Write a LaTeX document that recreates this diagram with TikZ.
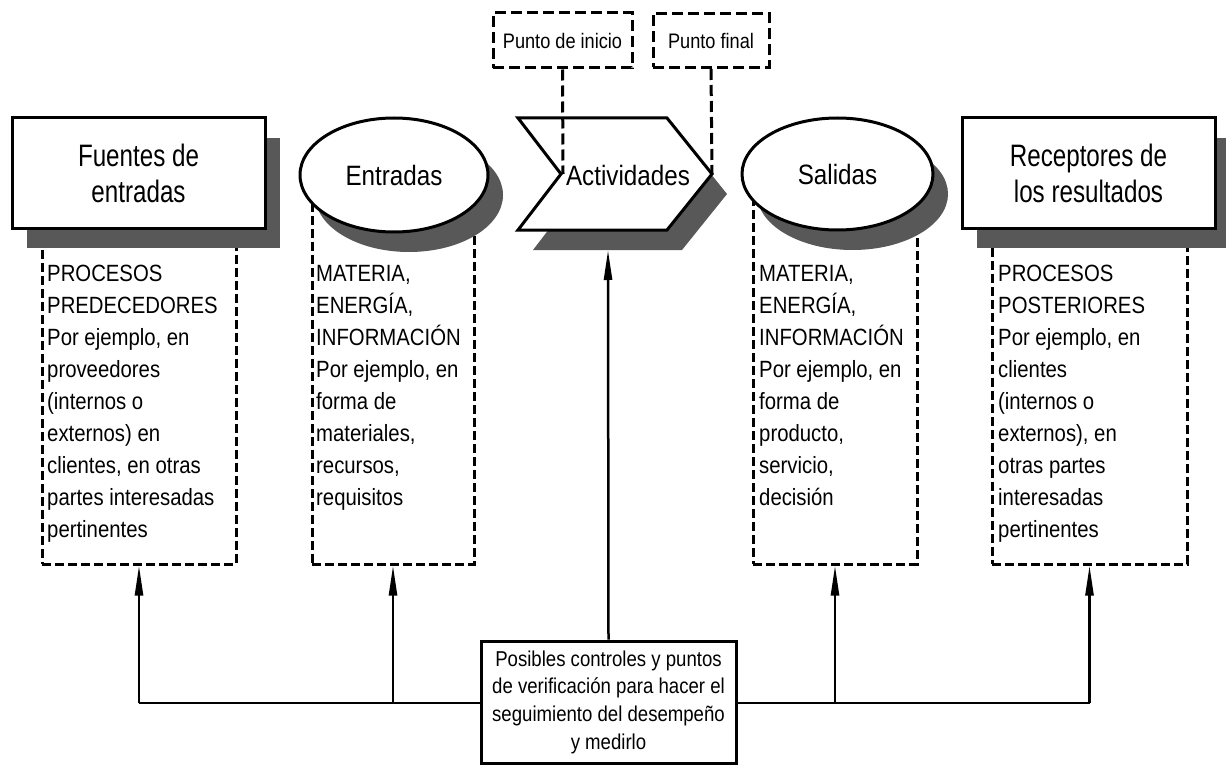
\documentclass[tikz,border=0pt]{standalone}
\usepackage{fontspec}
\setmainfont[FakeStretch=0.865]{Liberation Sans}
\newfontfamily\titlefont[FakeStretch=0.78]{Liberation Sans}
\usetikzlibrary{arrows.meta,shadows,shapes.geometric}
\definecolor{shadowgray}{RGB}{88,88,88}
\begin{document}
\begin{tikzpicture}[x=1pt,y=-1pt,
  myshadow/.style={drop shadow={shadow xshift=15pt,shadow yshift=-20pt,fill=shadowgray,opacity=1}},
  titlebox/.style={draw=black,line width=3pt,fill=white,rectangle,minimum width=253pt,minimum height=110pt,
    inner sep=0pt,align=center,font=\titlefont\fontsize{31}{36}\selectfont,myshadow},
  ellbox/.style={draw=black,line width=3pt,fill=white,ellipse,inner sep=0pt,
    font=\fontsize{28}{32}\selectfont,myshadow},
  dbox/.style={draw=black,line width=3pt,dash pattern=on 9pt off 4pt,fill=white,rectangle,inner sep=0pt},
  pbox/.style={draw=black,line width=3pt,dash pattern=on 11pt off 5pt,fill=white,rectangle,inner sep=0pt,
    font=\fontsize{21}{24}\selectfont},
  dline/.style={line width=3pt,dash pattern=on 11pt off 5pt},
  body/.style={anchor=north west,inner sep=0pt,align=left,font=\fontsize{23.5}{32}\selectfont},
  ctrlbox/.style={draw=black,line width=3pt,fill=white,rectangle,minimum width=255pt,minimum height=122pt,
    inner sep=0pt,align=center,font=\fontsize{21.5}{27.7}\selectfont},
  conn/.style={line width=2.5pt},
  arr/.style={conn,-{Triangle[length=30pt,width=8pt]}}
]
\useasboundingbox (0,0) rectangle (1226,765);

% dashed description boxes (behind the shadows)
\node[dbox,minimum width=194pt,minimum height=327pt] (d1) at (139,400.5) {};
\node[dbox,minimum width=162pt,minimum height=389pt] (d2) at (393,369.5) {};
\node[dbox,minimum width=164pt,minimum height=390pt] (d3) at (835,369) {};
\node[dbox,minimum width=195pt,minimum height=327pt] (d4) at (1089.5,400.5) {};

% texts in dashed boxes
\node[body] (t1) at (47,265) {PROCESOS\\PREDECEDORES\\Por ejemplo, en\\proveedores\\(internos o\\externos) en\\clientes, en otras\\partes interesadas\\pertinentes};
\node[body] (t2) at (316,265) {MATERIA,\\ENERGÍA,\\INFORMACIÓN\\Por ejemplo, en\\forma de\\materiales,\\recursos,\\requisitos};
\node[body] (t3) at (759,265) {MATERIA,\\ENERGÍA,\\INFORMACIÓN\\Por ejemplo, en\\forma de\\producto,\\servicio,\\decisión};
\node[body] (t4) at (998,265) {PROCESOS\\POSTERIORES\\Por ejemplo, en\\clientes\\(internos o\\externos), en\\otras partes\\interesadas\\pertinentes};

% main shapes
\node[titlebox] (fuentes) at (138.5,173) {Fuentes de\\entradas};
\node[ellbox,minimum width=188pt,minimum height=114pt] (entradas) at (394,175) {Entradas};
\node[ellbox,minimum width=191pt,minimum height=112pt] (salidas) at (837.5,174) {Salidas};
\node[titlebox] (receptores) at (1088.5,173) {Receptores de\\los resultados};

% activities chevron
\fill[shadowgray] (533,138) -- (682,138) -- (727,194) -- (682,250) -- (533,250) -- (576,194) -- cycle;
\coordinate (notch) at (563,174);
\coordinate (tip) at (712,174);
\draw[line width=3pt,fill=white,line join=miter] (518,118) -- (667,118) -- (tip) -- (667,230) -- (518,230) -- (561,174) -- cycle;
\node[inner sep=0pt,font=\fontsize{28}{32}\selectfont] (act) at (628,175) {Actividades};
\coordinate (actbottom) at (608,250);

% start / end points
\node[pbox,minimum width=139pt,minimum height=55pt] (pinicio) at (562.5,40.5) {Punto de inicio};
\node[pbox,minimum width=116pt,minimum height=54pt] (pfinal) at (711,40.5) {Punto final};
\draw[dline] (pinicio.south) -- (notch);
\draw[dline] (pfinal.south) -- (tip);

% control box and connectors
\node[ctrlbox] (ctrl) at (608.5,702) {Posibles controles y puntos\\de verificación para hacer el\\seguimiento del desempeño\\y medirlo};
\coordinate (j1) at (139,703);
\coordinate (j2) at (393,703);
\coordinate (j3) at (835,703);
\coordinate (j4) at (1089.5,703);
\draw[conn] (j1) -- (ctrl.west |- j1);
\draw[conn] (ctrl.east |- j4) -- (j4);
\draw[arr] (j1) -- (d1.south);
\draw[arr] (j2) -- (d2.south);
\draw[arr] (j3) -- (d3.south);
\draw[arr] (j4) -- (d4.south);
\draw[arr] (ctrl.north) -- (actbottom);
\end{tikzpicture}
\end{document}
